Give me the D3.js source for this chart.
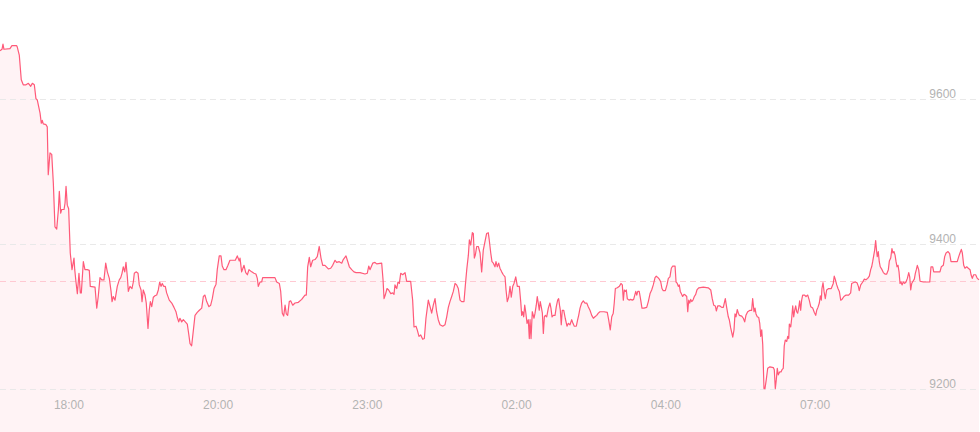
<!DOCTYPE html>
<html>
<head>
<meta charset="utf-8">
<script src="https://cdn.jsdelivr.net/npm/d3@7/dist/d3.min.js"></script>
<style>
  html, body { margin: 0; padding: 0; background: #ffffff; }
  svg { display: block; }
  text { font-family: "Liberation Sans", Arial, sans-serif; }
</style>
</head>
<body>
<svg id="chart" width="980" height="432"></svg>
<script>
// elapsed minutes since session start
const minutes = [
0,1.6,2.4,3.2,8,9.6,13.4,13.9,15.5,17.1,18.7,20.9,22.8,24.7,26,27.6,28.9,30,32.2,33.2,34,34.8,37,38,38.8,40.2,41.6,42.9,44.2,45.6,46.9,47.7,48.8,49.6,51.5,52.3,53.1,54.1,55.2,
56.5,57.9,59.5,60.1,61.1,62.2,63.5,64.6,65.4,67,68.3,70.2,71.8,72.6,76.4,77.8,79,80.4,81.8,83.6,85,86.3,87.9,89.3,90.1,91.1,92.5,94.3,95.9,97.1,98.1,99.1,100.3,101.3,102.4,103.2,104.5,106.1,107.2,108,109.4,111,112,113.4,114.2,115.2,116.6,117.6,119,120,120.9,122,123.3,124.6,126,127.3,128.4,129.5,130.5,131.6,132.9,134,136.1,138.1,139.9,141.5,142.6,143.7,144.7,146.1,147.4,149,150.6,151.7,152.8,154.1,155.2,156.8,158.6,160.3,162.2,163.5,164.8,166.2,168,169.4,170.7,172.1,173.7,174.7,176.3,177.7,178.7,180.1,181.7,183.3,184.9,189.2,190.8,192.4,
193,194.3,196.2,197.6,198.9,200.2,202.4,204.2,205.8,206.9,207.7,209.1,210.4,211.2,221.1,222.5,224.6,225.7,227,228.1,229.2,230.2,231.3,232.6,233.7,235.4,237.2,239.9,242.6,245.2,246.3,247.4,248.7,249.8,251.4,253.3,255.1,256.7,258.1,259.5,261.3,264,265.9,267.5,269.4,270.7,272.8,274.8,276,278.2,279.3,280.9,282.8,284.6,286.3,289.5,293.5,295.3,296.5,297.5,299.7,301.5,302.9,306.9,308,308.8,309.8,311.2,312.5,314.2,315.8,316.8,317.6,319,320,321.1,322.2,323.8,325.7,327,330.2,331.8,332.9,334.5,335.5,336.9,338.3,339.9,341.2,342.5,344.4,345.8,347.1,348.4,349.8,351.1,352.4,353.8,356,357.8,359.2,360.5,361.8,363.2,364.5,365.9,367.2,368.5,369.9,371.2,373.1,374.1,375.3,376.6,377.4,378.5,379.8,380.6,381.4,382.2,383.3,384.6,386,387.3,388.6,390,391.3,392.6,
393.4,394.6,395.6,396.7,398,398.8,399.9,401,402,403.4,404.7,406.1,406.9,407.9,409,410.1,411.1,412.3,413.3,414.7,416,417.6,418.7,419.5,420.3,421.1,421.9,422.7,423.8,424.8,425.6,426.2,427,428,429.4,430.2,431.2,432,432.8,433.6,434.4,435.3,436.1,436.9,437.7,438.5,439.6,440.9,442.2,443,443.9,444.9,446.3,447.3,448.4,449.2,450,450.5,451.3,452.1,453.3,454.5,455.9,457,458.3,459.7,460.7,461.8,463.4,464.5,465.3,466.4,467.7,469,470.4,471.8,473,474.4,475.8,477.1,478.4,479.8,481.1,482.4,485.7,488.3,489.4,490.7,491.9,493.1,493.9,494.8,496.4,498,499.3,500.4,501.2,502,502.8,503.6,504.4,505.8,507.1,508.4,509.5,510.4,511.2,512,512.8,514,515.2,516.2,517.8,520,521.3,522.7,524,525.3,526.7,527.7,529.1,530.1,531.3,532.3,533.3,535,536.3,537.4,538.7,539.8,540.9,542.8,543.6,544.6,545.4,546.2,547,547.8,548.9,550,551,552.2,553,553.8,554.6,555.4,556.2,557.2,558.3,559.4,560.4,561.8,565.5,569.5,571.5,572.7,573.9,575.2,576,577.1,578.9,580.3,581.6,583.2,584.3,585.6,586.4,587.5,588.3,589.2,590.2,591,591.8,592.8,593.7,594.5,596.4,597.7,598.8,599.8,601.2,603.1,604.4,605.2,606.3,607.1,607.9,608.9,610.1,610.9,611.7,612.5,613.3,614.3,615.1,616.2,617.3,619.1,621.8,622.6,623.4,624.2,625,625.8,626.9,628,628.8,629.8,630.6,631.4,632.6,633.4,634.2,634.7,635.8,636.6,637.4,638.2,639,639.8,640.6,641.4,642.2,643,643.8,644.6,645.4,647,648.1,649.5,650.7,651.9,653.5,654.8,655.9,656.7,657.7,658.8,659.6,660.4,660.9,661.8,662.6,663.6,664.7,666.3,668.4,670,670.8,671.6,672.8,673.8,674.9,676,677,678.6,680.3,682.4,684,684.8,686.1,687.7,689.1,690.2,690.9,692.1,693.7,695,696.3,697.7,699,700.1,700.9,701.7,702.5,703.3,704.1,704.9,705.4,706.2,707,707.8,709.2,710.3,711.6,713,714.3,715.1,716.2,717.2,718,718.8,719.7,720.5,721.3,722.1,722.9,723.7,724.5,725.3,726.3,727.4,728.5,729.6,730.7,731.5,732.3,733.1,734.1,735.2,736,736.8,737.6,738.7,739.8,742.4,745.1,747.6,748.6,750,750.8,753.2,755.8,756.9,758.5,759.6,760.7,762.3,763.6,764.7,767.9,769.7,770.9,771.9,773,773.8,774.9,775.9,777.3,778.6,780,780.8,781.8,782.9,784.5,785.8,787.2
];
const prices = [
9667,9669,9676,9669,9670,9674,9674,9672,9661,9627,9620,9620,9622,9618,9622,9620,9601,9599,9581,9567,9571,9566,9565,9562,9496,9526,9524,9484,9424,9421,9447,9473,9443,9448,9448,9457,9480,9454,9449,
9388,9365,9381,9365,9348,9332,9360,9333,9333,9376,9365,9365,9364,9342,9341,9312,9328,9354,9351,9351,9374,9362,9353,9335,9321,9328,9323,9342,9351,9354,9360,9369,9362,9375,9355,9335,9342,9339,9348,9360,9362,9360,9344,9337,9321,9337,9330,9319,9284,9309,9321,9314,9327,9329,9330,9337,9348,9342,9346,9342,9342,9333,9323,9319,9313,9307,9299,9293,9298,9293,9296,9293,9290,9277,9263,9260,9277,9302,9306,9309,9312,9328,9330,9321,9314,9316,9325,9339,9345,9365,9384,9384,9370,9365,9365,9371,9378,9378,9384,9377,
9381,9362,9371,9361,9358,9365,9362,9360,9359,9353,9342,9348,9348,9354,9354,9348,9346,9335,9305,9301,9316,9304,9302,9321,9322,9316,9319,9320,9324,9330,9330,9369,9382,9369,9378,9379,9383,9397,9381,9371,9371,9366,9367,9371,9378,9375,9376,9374,9379,9384,9378,9369,9365,9362,9361,9361,9359,9360,9370,9365,9374,9375,9373,9374,9351,9325,9330,9339,9337,9332,9333,9331,9344,9339,9348,9346,9360,9358,9361,9349,9349,9323,9286,9287,9282,9273,9275,9269,9270,9298,9323,9314,9305,9316,9325,9307,9296,9289,9287,9289,9300,9313,9321,9328,9335,9346,9344,9339,9323,9321,9321,9342,9365,9385,9406,9399,9416,9415,9381,9385,9397,9397,9388,9362,9392,9404,9415,9416,
9406,9388,9376,9374,9369,9376,9369,9374,9367,9362,9358,9355,9337,9321,9327,9342,9327,9342,9346,9355,9342,9342,9321,9302,9307,9300,9316,9307,9291,9296,9270,9296,9270,9307,9298,9305,9316,9328,9319,9309,9321,9313,9305,9277,9300,9302,9300,9312,9319,9312,9300,9302,9302,9314,9323,9325,9315,9310,9289,9309,9309,9298,9287,9291,9289,9296,9291,9287,9287,9296,9302,9312,9319,9322,9319,9319,9314,9309,9302,9298,9300,9302,9305,9307,9307,9306,9296,9282,9300,9305,9319,9339,9340,9342,9346,9344,9323,9337,9335,9337,9325,9323,9324,9323,9324,9330,9335,9330,9335,9335,9323,9312,9312,9313,9321,9332,9337,9344,9354,9356,9354,9352,9348,9339,9336,9336,9344,9353,9355,9367,9370,9370,9348,9346,9342,9344,9335,9332,9328,9331,9330,9328,9307,9323,9319,9324,9321,9323,9328,9331,9337,9340,9341,9340,9337,9325,9316,9315,9308,9315,9315,9313,9313,9325,9313,9300,9296,9285,9279,9272,9282,9304,9300,9310,9305,9302,9301,9298,9293,9302,9307,9309,9309,9325,9307,9312,9304,9300,9299,9291,9273,9282,9262,9201,9201,9214,9229,9231,9230,9227,9201,9213,9229,9220,9224,9224,9227,9229,9260,9268,9266,9273,9270,9290,9286,9298,9315,9300,9309,9315,9307,9305,9312,9322,9309,9323,9330,9330,9328,9330,9323,9314,9312,9306,9302,9309,9313,9319,9329,9323,9339,9347,9335,9325,9337,9339,9339,9346,9356,9352,9344,9339,9335,9323,9324,9328,9330,9330,9333,9346,9347,9348,9347,9342,9336,9344,9348,9352,9351,9353,9356,9365,9369,9376,9384,9392,9405,9390,9383,9390,9376,9369,9365,9361,9359,9359,9365,9377,9381,9394,9388,9390,9385,9376,9369,9371,9362,9346,9348,9344,9348,9346,9348,9353,9361,9355,9337,9346,9349,9352,9360,9365,9371,9365,9349,9348,9348,9348,9369,9369,9362,9362,9362,9369,9371,9383,9388,9390,9387,9376,9376,9376,9383,9388,9393,9388,9371,9367,9369,9367,9365,9358,9353,9358,9358,9353,9351
];
const totalMinutes = 788;
const tickMinutes = [55, 175, 295, 415, 535, 655];
const tickLabels = ["18:00", "20:00", "23:00", "02:00", "04:00", "07:00"];
const priceTicks = [9200, 9400, 9600];
const referencePrice = 9350;

const W = 980, H = 432;
const svg = d3.select("#chart");

const x = d3.scaleLinear().domain([0, totalMinutes]).range([0, W]);
const y = d3.scaleLinear().domain([9200, 9600]).range([389.3, 99.3]);

const data = minutes.map((m, i) => ({ m, p: prices[i] }));

// area fill down to bottom
const area = d3.area()
  .x(d => x(d.m))
  .y0(H)
  .y1(d => y(d.p));
svg.append("path")
  .datum(data)
  .attr("d", area)
  .attr("fill", "#fff3f5");

// grid lines
const yAxis = d3.axisRight(y)
  .tickValues(priceTicks)
  .tickSize(W)
  .tickFormat("");
const gGrid = svg.append("g").call(yAxis);
gGrid.select(".domain").remove();
gGrid.selectAll(".tick line")
  .attr("stroke", "#e9e9e9")
  .attr("stroke-width", 1)
  .attr("stroke-dasharray", "6,4")
  .attr("shape-rendering", "crispEdges");

// reference line
svg.append("line")
  .attr("x1", 0).attr("x2", W)
  .attr("y1", Math.round(y(referencePrice)) + 0.5)
  .attr("y2", Math.round(y(referencePrice)) + 0.5)
  .attr("stroke", "#ffc9d2")
  .attr("stroke-width", 1)
  .attr("stroke-dasharray", "6,4");

// price line
const line = d3.line()
  .x(d => x(d.m))
  .y(d => y(d.p));
svg.append("path")
  .datum(data)
  .attr("d", line)
  .attr("fill", "none")
  .attr("stroke", "#ff5a79")
  .attr("stroke-width", 1.2)
  .attr("stroke-linejoin", "round");

// y labels
const yLab = d3.axisLeft(y).tickValues(priceTicks).tickSize(0).tickPadding(0).tickFormat(d3.format("d"));
const gY = svg.append("g").attr("transform", "translate(956,0)").call(yLab);
gY.select(".domain").remove();
gY.selectAll(".tick text")
  .attr("dy", "-2px")
  .attr("y", 0)
  .attr("dominant-baseline", "auto")
  .attr("fill", "#b3b3b3")
  .style("font-size", "12px")
  .style("font-family", "'Liberation Sans', Arial, sans-serif");

// x labels
const xAxis = d3.axisBottom(x)
  .tickValues(tickMinutes)
  .tickSize(0)
  .tickPadding(0)
  .tickFormat((d, i) => tickLabels[i]);
const gX = svg.append("g").attr("transform", "translate(0,409)").call(xAxis);
gX.select(".domain").remove();
gX.selectAll(".tick text")
  .attr("y", 0)
  .attr("dy", 0)
  .attr("fill", "#b3b3b3")
  .style("font-size", "12px")
  .style("font-family", "'Liberation Sans', Arial, sans-serif");
</script>
</body>
</html>
